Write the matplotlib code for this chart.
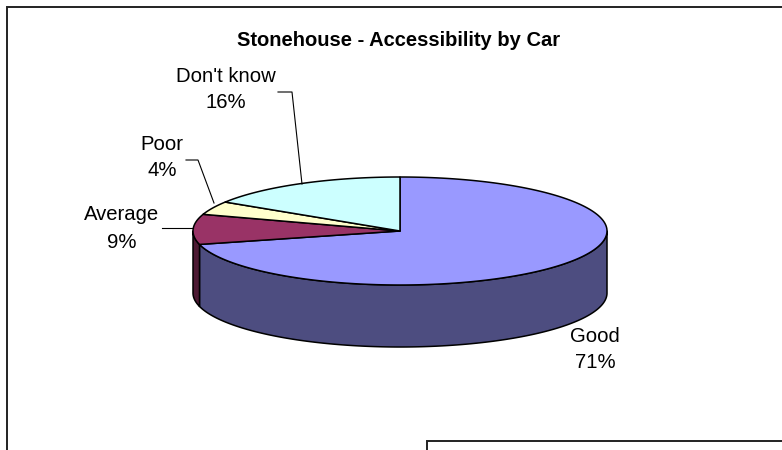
import numpy as np
import matplotlib
matplotlib.use('Agg')
import matplotlib.pyplot as plt
from matplotlib.patches import Polygon

# Survey answers and their share of responses (%)
categories = ['Good', 'Average', 'Poor', "Don't know"]
shares = [71, 9, 4, 16]
top_colors = ['#9999FF', '#993366', '#FFFFCC', '#CCFFFF']
side_colors = ['#4D4D80', '#4D1A33', '#808066', '#668080']

TITLE = 'Stonehouse - Accessibility by Car'

# Pie geometry in pixel units (y grows downward)
CX, CY = 400, 231
RX, RY = 207, 54
DEPTH = 62
START = 90.0  # 12 o'clock, slices run clockwise

# Label anchors (centre of the name line) and leader lines per category
label_pos = {
    'Good': (595, 336),
    'Average': (122, 215),
    'Poor': (162, 144),
    "Don't know": (226, 76),
}
LINE_GAP = 27
leaders = {
    'Average': [(162, 228), (193, 228)],
    'Poor': [(186, 160), (198, 160), (214, 203)],
    "Don't know": [(278, 92), (292, 92), (302, 184)],
}


def ellipse_pts(t0, t1, n=200, dy=0.0):
    t = np.radians(np.linspace(t0, t1, n))
    return np.column_stack([CX + RX * np.cos(t), CY - RY * np.sin(t) + dy])


fig = plt.figure(figsize=(7.82, 4.5), dpi=100)
ax = fig.add_axes([0, 0, 1, 1])
ax.set_xlim(0, 782)
ax.set_ylim(450, 0)
ax.axis('off')

# slice angle ranges, clockwise from the top
total = float(sum(shares))
bounds = []
a = START
for v in shares:
    span = 360.0 * v / total
    bounds.append((a - span, a))
    a -= span

# front walls: only the part of each slice facing the viewer
for (t_end, t_start), col in zip(bounds, side_colors):
    for lo, hi in [(-180, 0), (-540, -360), (180, 360)]:
        s0, s1 = max(t_end, lo), min(t_start, hi)
        if s1 - s0 <= 0:
            continue
        upper = ellipse_pts(s0, s1)
        lower = ellipse_pts(s1, s0, dy=DEPTH)
        ax.add_patch(Polygon(np.vstack([upper, lower]), closed=True,
                             facecolor=col, edgecolor='black', lw=1.1,
                             joinstyle='round', zorder=2))

# top faces
for (t_end, t_start), col in zip(bounds, top_colors):
    arc = ellipse_pts(t_start, t_end)
    pts = np.vstack([[CX, CY], arc])
    ax.add_patch(Polygon(pts, closed=True, facecolor=col,
                         edgecolor='black', lw=1.1, joinstyle='round',
                         zorder=3))

# data labels
for name, v in zip(categories, shares):
    x, y = label_pos[name]
    ax.text(x, y, name, ha='center', va='center', fontsize=14.6,
            family='Liberation Sans', zorder=5)
    ax.text(x, y + LINE_GAP, f'{v}%', ha='center', va='center',
            fontsize=14.6, family='Liberation Sans', zorder=5)
    if name in leaders:
        xs, ys = zip(*leaders[name])
        ax.plot(xs, ys, color='black', lw=0.8, zorder=4)

ax.text(399, 40, TITLE, ha='center', va='center', fontsize=14.5,
        fontweight='bold', family='Liberation Sans')

# chart area frame and the box below it
ax.plot([7, 7, 782], [450, 7, 7], color='#222222', lw=1.4,
        solid_joinstyle='miter', zorder=1)
ax.plot([427, 427, 782], [450, 441, 441], color='#222222', lw=1.4,
        solid_joinstyle='miter', zorder=1)

fig.savefig('out.png', dpi=100)
